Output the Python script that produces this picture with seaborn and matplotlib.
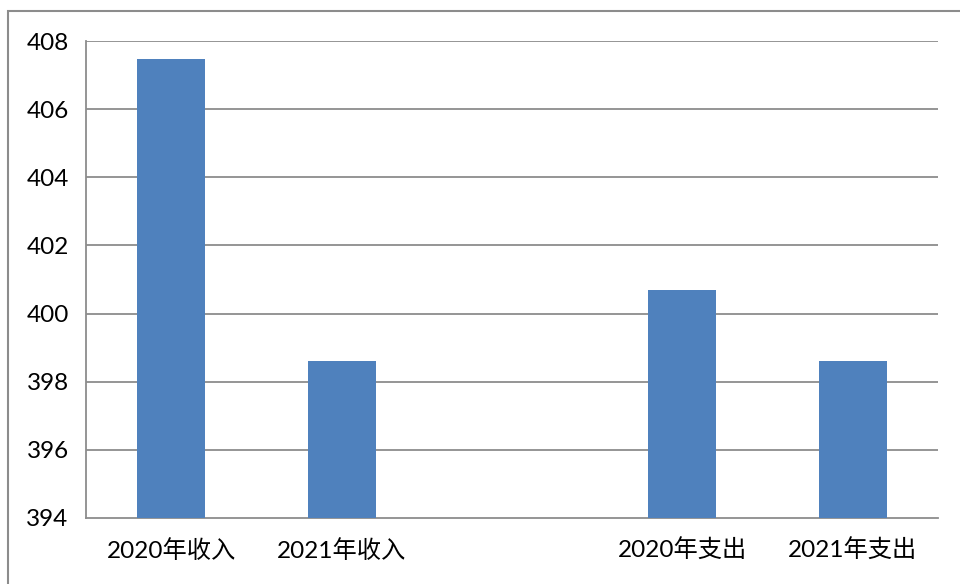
import numpy as np
import pandas as pd
import seaborn as sns
import matplotlib.pyplot as plt
from matplotlib.patches import Rectangle

categories = ["2020年收入", "2021年收入", "", "2020年支出", "2021年支出"]
values = [407.46, 398.6, np.nan, 400.7, 398.6]
y_ticks = [394, 396, 398, 400, 402, 404, 406, 408]

sns.set_style("white")
plt.rcParams["font.family"] = ["Lato", "Noto Sans CJK SC", "DejaVu Sans"]

df = pd.DataFrame({"item": categories, "value": values}).dropna()

fig = plt.figure(figsize=(9.6, 5.84), dpi=100)
ax = fig.add_axes([86 / 960, 1 - 518 / 584, (938 - 86) / 960, (518 - 41) / 584])

grid_color = "#8c8c8c"
sns.barplot(data=df, x="item", y="value", order=categories, color="#4F81BD",
            saturation=1, width=0.4, linewidth=0, ax=ax, zorder=3)

ax.set_ylim(394, 408)
ax.set_xlim(-0.5, len(categories) - 0.5)
ax.set_yticks(y_ticks)
ax.set_yticklabels([str(t) for t in y_ticks], fontsize=17.5, color="#000000")
for t in y_ticks[1:]:
    ax.axhline(t, color=grid_color, lw=1.3, zorder=1)

ax.set_xticks(range(len(categories)))
ax.set_xticklabels(categories, fontsize=17.5, color="#000000")
ax.tick_params(axis="x", which="major", length=0, pad=15)
ax.set_xticks(np.arange(-0.5, len(categories), 1.0), minor=True)
ax.tick_params(axis="x", which="minor", length=7, width=1.3, color=grid_color, direction="out")
ax.tick_params(axis="y", length=7.5, width=1.3, color=grid_color, direction="out", pad=5)

ax.set_xlabel("")
ax.set_ylabel("")
for side in ["top", "right"]:
    ax.spines[side].set_visible(False)
for side in ["left", "bottom"]:
    ax.spines[side].set_color(grid_color)
    ax.spines[side].set_linewidth(1.3)

# outer frame around the chart area
fig.patches.append(Rectangle((8 / 960, -0.05), 1.1, 1 - 11 / 584 + 0.05,
                             transform=fig.transFigure, fill=False,
                             edgecolor="#8c8c8c", lw=1.5, clip_on=False))

fig.savefig("out.png", dpi=100, facecolor="white")
